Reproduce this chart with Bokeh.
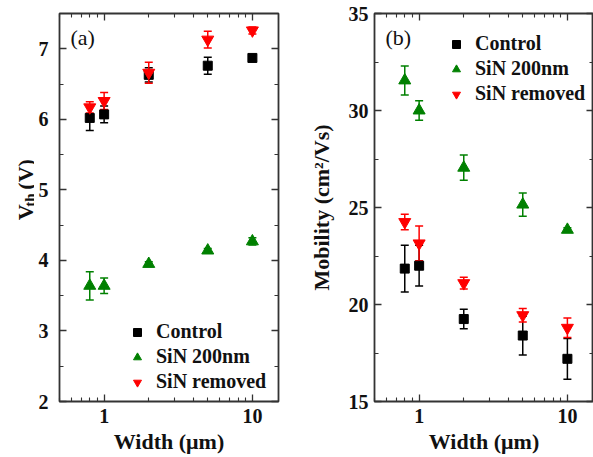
import math
from bokeh.plotting import figure
from bokeh.models import (ColumnDataSource, Whisker, TeeHead, Legend, LegendItem,
                          LogAxis, LinearAxis, FixedTicker, SingleIntervalTicker,
                          PrintfTickFormatter, Label)
from bokeh.core.properties import value
from bokeh.layouts import row
from bokeh.embed import file_html
from bokeh.resources import INLINE

# ---------------- data ----------------
widths = [0.8, 1, 2, 5, 10]

vth_control = [6.02, 6.07, 6.63, 6.76, 6.87]
vth_control_err = [0.18, 0.12, 0.10, 0.12, 0.04]
vth_sin200 = [3.64, 3.64, 3.95, 4.14, 4.27]
vth_sin200_err = [0.20, 0.11, 0.03, 0.03, 0.05]
vth_removed = [6.17, 6.26, 6.66, 7.13, 7.26]
vth_removed_err = [0.08, 0.12, 0.15, 0.12, 0.05]

mob_control = [21.85, 22.0, 19.25, 18.4, 17.2]
mob_control_err = [1.2, 1.05, 0.5, 1.0, 1.05]
mob_sin200 = [31.55, 30.0, 27.05, 25.15, 23.85]
mob_sin200_err = [0.75, 0.5, 0.65, 0.6, 0.1]
mob_removed = [24.25, 23.15, 21.1, 19.45, 18.8]
mob_removed_err = [0.4, 0.9, 0.3, 0.35, 0.5]

series_names = ["Control", "SiN 200nm", "SiN removed"]
x_major = [1, 10]
x_minor = [0.5, 0.6, 0.7, 0.8, 0.9, 2, 3, 4, 5, 6, 7, 8, 9]

FONT = "Liberation Serif"
FRAME = "#333333"
TXT = "#111111"
colors = ["#000000", "#008000", "#ff0000"]
markers = ["square", "triangle", "inverted_triangle"]
msizes = [9, 12, 12]
H = 456


def style_axis(ax, show_labels=True, standoff=8):
    ax.axis_line_color = None
    ax.major_tick_line_color = FRAME
    ax.minor_tick_line_color = FRAME
    ax.major_tick_line_width = 1.3
    ax.minor_tick_line_width = 1.1
    ax.major_tick_in = 7
    ax.major_tick_out = 0
    ax.minor_tick_in = 4
    ax.minor_tick_out = 0
    ax.major_label_text_font = FONT
    ax.major_label_text_font_style = "bold"
    ax.axis_label_text_font = FONT
    ax.axis_label_text_font_style = "bold"
    ax.axis_label_text_font_size = "22px"
    ax.axis_label_text_color = TXT
    if show_labels:
        ax.major_label_text_font_size = "20px"
        ax.major_label_text_color = TXT
        ax.major_label_standoff = standoff
    else:
        ax.major_label_text_font_size = "1px"
        ax.major_label_text_color = None
        ax.major_label_standoff = 0


def make_panel(ys, errs, y_range, y_interval, width, min_left, min_right,
               ylabel, ystandoff, panel_tag, legend_loc, ylab_standoff):
    p = figure(width=width, height=H, x_axis_type="log", x_range=(0.5, 15),
               y_range=y_range, output_backend="svg", toolbar_location=None,
               min_border_left=min_left, min_border_right=min_right,
               min_border_top=13, min_border_bottom=54)
    p.grid.visible = False
    p.outline_line_color = FRAME
    p.outline_line_width = 1.8
    p.background_fill_color = "white"
    p.border_fill_color = "white"

    xt = FixedTicker(ticks=x_major, minor_ticks=x_minor)
    yt = SingleIntervalTicker(interval=y_interval, num_minor_ticks=2)

    p.xaxis.ticker = xt
    p.xaxis.formatter = PrintfTickFormatter(format="%d")
    p.xaxis.axis_label = "Width (\u03bcm)"
    p.xaxis.axis_label_standoff = 3
    p.yaxis.ticker = yt
    if ylabel:
        p.yaxis.axis_label = ylabel
        p.yaxis.axis_label_standoff = ylab_standoff
    style_axis(p.xaxis[0], True, 7)
    style_axis(p.yaxis[0], True, ystandoff)

    top = LogAxis(ticker=xt)
    style_axis(top, False)
    p.add_layout(top, "above")
    right = LinearAxis(ticker=SingleIntervalTicker(interval=y_interval, num_minor_ticks=2))
    style_axis(right, False)
    p.add_layout(right, "right")

    items = []
    for i in range(3):
        lo = [v - e for v, e in zip(ys[i], errs[i])]
        hi = [v + e for v, e in zip(ys[i], errs[i])]
        src = ColumnDataSource(dict(x=widths, y=ys[i], lo=lo, hi=hi))
        w = Whisker(base="x", lower="lo", upper="hi", source=src, dimension="height",
                    line_color=colors[i], line_width=1.5,
                    lower_head=TeeHead(size=8, line_color=colors[i], line_width=1.5),
                    upper_head=TeeHead(size=8, line_color=colors[i], line_width=1.5))
        p.add_layout(w)
        r = p.scatter("x", "y", source=src, marker=markers[i], size=msizes[i],
                      fill_color=colors[i], line_color=colors[i])
        items.append(LegendItem(label=series_names[i], renderers=[r]))

    leg = Legend(items=items, location=legend_loc, padding=0, margin=0,
                 spacing=2, glyph_width=20, glyph_height=20, label_height=20,
                 label_standoff=9, background_fill_alpha=0, border_line_color=None,
                 label_text_font=FONT, label_text_font_style="bold",
                 label_text_font_size="20px", label_text_color=TXT)
    p.add_layout(leg)

    p.add_layout(Label(x=11, y=364, x_units="screen", y_units="screen",
                       text=panel_tag, text_font=FONT, text_font_size="22px",
                       text_baseline="middle", text_color=TXT))
    return p


# narrow strip holding the left y-axis title (V with subscript th)
LW = 34
lab = figure(width=LW, height=H, x_range=(0, LW), y_range=(0, H),
             output_backend="svg", toolbar_location=None,
             min_border_left=0, min_border_right=0, min_border_top=0, min_border_bottom=0)
lab.axis.visible = False
lab.grid.visible = False
lab.outline_line_color = None
common = dict(angle=math.pi / 2, text_font=value(FONT), text_font_style="bold",
              text_color=TXT, text_align="left", text_baseline="alphabetic")
lab.text(x=[25], y=[H - 243], text=["V"], text_font_size="22px", **common)
lab.text(x=[29.5], y=[H - 227], text=["th"], text_font_size="15px", **common)
lab.text(x=[25], y=[H - 207], text=["(V)"], text_font_size="22px", **common)

left = make_panel([vth_control, vth_sin200, vth_removed],
                  [vth_control_err, vth_sin200_err, vth_removed_err],
                  (2, 7.5), 1, 266, 25, 22, None, 11, "(a)", (68, 8), 4)

right_p = make_panel([mob_control, mob_sin200, mob_removed],
                     [mob_control_err, mob_sin200_err, mob_removed_err],
                     (15, 35), 5, 293, 74, 0, "Mobility (cm\u00b2/Vs)", 6, "(b)", (72, 296), 12)

layout = row(lab, left, right_p)
open("out.html", "w").write(file_html(layout, INLINE))
